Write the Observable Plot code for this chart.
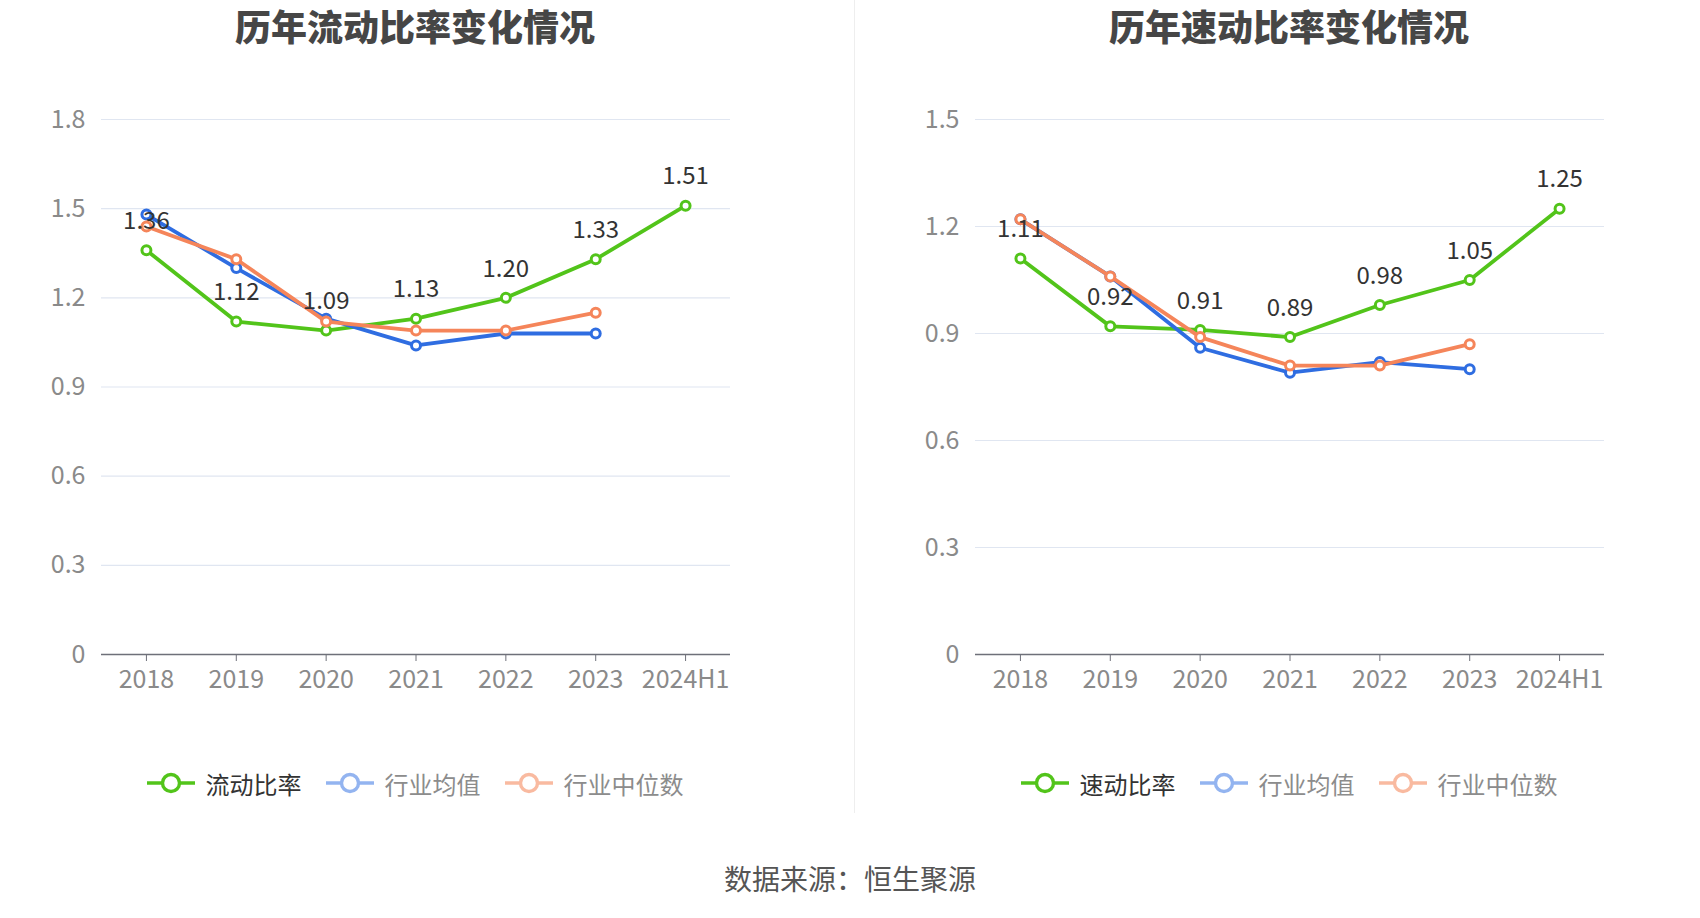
<!DOCTYPE html>
<html><head><meta charset="utf-8">
<script src="https://cdn.jsdelivr.net/npm/d3@7"></script>
<script src="https://cdn.jsdelivr.net/npm/@observablehq/plot@0.6"></script>
<style>
body{margin:0;background:#fff;}
#root{position:relative;width:1700px;height:918px;overflow:hidden;font-family:"Noto Sans CJK SC","Noto Sans",sans-serif;}
.title{position:absolute;top:0;width:800px;height:50px;line-height:50px;text-align:center;font-size:36px;font-weight:900;color:#464646;}
.panel{position:absolute;top:0;}
.legend{position:absolute;width:800px;height:40px;top:763px;display:flex;justify-content:center;align-items:center;font-size:24px;}
.item{display:flex;align-items:center;margin:0 12px;}
.item svg{margin-right:11px;}
.divider{position:absolute;left:854px;top:0;width:1px;height:813px;background:#eeeeee;}
.source{position:absolute;left:0;width:1700px;top:858px;text-align:center;font-size:28px;color:#555;line-height:40px;}
</style>
</head><body>
<div id="root"></div>
<script>
const years = ["2018","2019","2020","2021","2022","2023","2024H1"];

// 流动比率 panel
const currentRatio = [1.36, 1.12, 1.09, 1.13, 1.20, 1.33, 1.51];
const currentIndustryMean = [1.48, 1.30, 1.13, 1.04, 1.08, 1.08];
const currentIndustryMedian = [1.44, 1.33, 1.12, 1.09, 1.09, 1.15];
const currentTicks = [0, 0.3, 0.6, 0.9, 1.2, 1.5, 1.8];

// 速动比率 panel
const quickRatio = [1.11, 0.92, 0.91, 0.89, 0.98, 1.05, 1.25];
const quickIndustryMean = [1.22, 1.06, 0.86, 0.79, 0.82, 0.80];
const quickIndustryMedian = [1.22, 1.06, 0.89, 0.81, 0.81, 0.87];
const quickTicks = [0, 0.3, 0.6, 0.9, 1.2, 1.5];

const titles = ["历年流动比率变化情况", "历年速动比率变化情况"];
const legendNames = [["流动比率", "行业均值", "行业中位数"], ["速动比率", "行业均值", "行业中位数"]];
const sourceText = "数据来源：恒生聚源";

const colors = ["#52c41a", "#2f6de1", "#f5855a"];
const legendColors = ["#52c41a", "#93b4f0", "#f9baa0"];
const legendTextColors = ["#333333", "#8c8c8c", "#8c8c8c"];

const root = document.getElementById("root");

function rows(arr) {
  return arr.map((v, i) => ({year: years[i], v}));
}

function makePanel(opts) {
  const {series, ticks, ymax, left, marginLeft, marginRight, center, title, names} = opts;
  const marks = [
    Plot.gridY(ticks.filter(d => d > 0), {stroke: "#e0e6f1", strokeOpacity: 1, strokeWidth: 1.2}),
    Plot.axisY(ticks, {tickSize: 0, tickPadding: 16, fill: "#8a8a8a", label: null, tickFormat: d => d === 0 ? "0" : d.toFixed(1), fontSize: 25}),
    Plot.ruleY([0], {stroke: "#6e7079", strokeWidth: 1.6}),
    Plot.axisX({tickSize: 7, tickPadding: 9, stroke: "#6e7079", fill: "#8a8a8a", label: null, fontSize: 25})
  ];
  series.forEach((arr, k) => {
    const d = rows(arr);
    marks.push(Plot.line(d, {x: "year", y: "v", stroke: colors[k], strokeWidth: 3.8}));
    marks.push(Plot.dot(d, {x: "year", y: "v", r: 4.5, fill: "#fff", stroke: colors[k], strokeWidth: 3}));
  });
  marks.push(Plot.text(rows(series[0]), {x: "year", y: "v", text: d => d.v.toFixed(2), dy: -29, fill: "#333", fontSize: 24}));

  const chart = Plot.plot({
    width: 850,
    height: 720,
    marginLeft, marginRight,
    marginTop: 119,
    marginBottom: 66,
    x: {type: "point", domain: years, padding: 0.5, round: false, label: null},
    y: {domain: [0, ymax], range: [654, 119], label: null},
    style: {fontFamily: '"Noto Sans CJK SC","Noto Sans",sans-serif', fontSize: "25px", color: "#8a8a8a", background: "transparent", overflow: "visible"},
    marks
  });
  const wrap = document.createElement("div");
  wrap.className = "panel";
  wrap.style.left = left + "px";
  wrap.appendChild(chart);
  root.appendChild(wrap);

  const t = document.createElement("div");
  t.className = "title";
  t.style.left = (center - 400) + "px";
  t.textContent = title;
  root.appendChild(t);

  const lg = document.createElement("div");
  lg.className = "legend";
  lg.style.left = (center - 400) + "px";
  names.forEach((n, k) => {
    const it = document.createElement("div");
    it.className = "item";
    it.innerHTML = `<svg width="48" height="24"><line x1="0" x2="48" y1="12" y2="12" stroke="${legendColors[k]}" stroke-width="3.4"/><circle cx="24" cy="12" r="8.5" fill="#fff" stroke="${legendColors[k]}" stroke-width="3.4"/></svg><span style="color:${legendTextColors[k]}">${n}</span>`;
    lg.appendChild(it);
  });
  root.appendChild(lg);
}

makePanel({series: [currentRatio, currentIndustryMean, currentIndustryMedian], ticks: currentTicks, ymax: 1.8,
  left: 0, marginLeft: 101, marginRight: 120, center: 415, title: titles[0], names: legendNames[0]});
makePanel({series: [quickRatio, quickIndustryMean, quickIndustryMedian], ticks: quickTicks, ymax: 1.5,
  left: 850, marginLeft: 125, marginRight: 96, center: 1289, title: titles[1], names: legendNames[1]});

const dv = document.createElement("div");
dv.className = "divider";
root.appendChild(dv);

const src = document.createElement("div");
src.className = "source";
src.textContent = sourceText;
root.appendChild(src);
</script>
</body></html>
